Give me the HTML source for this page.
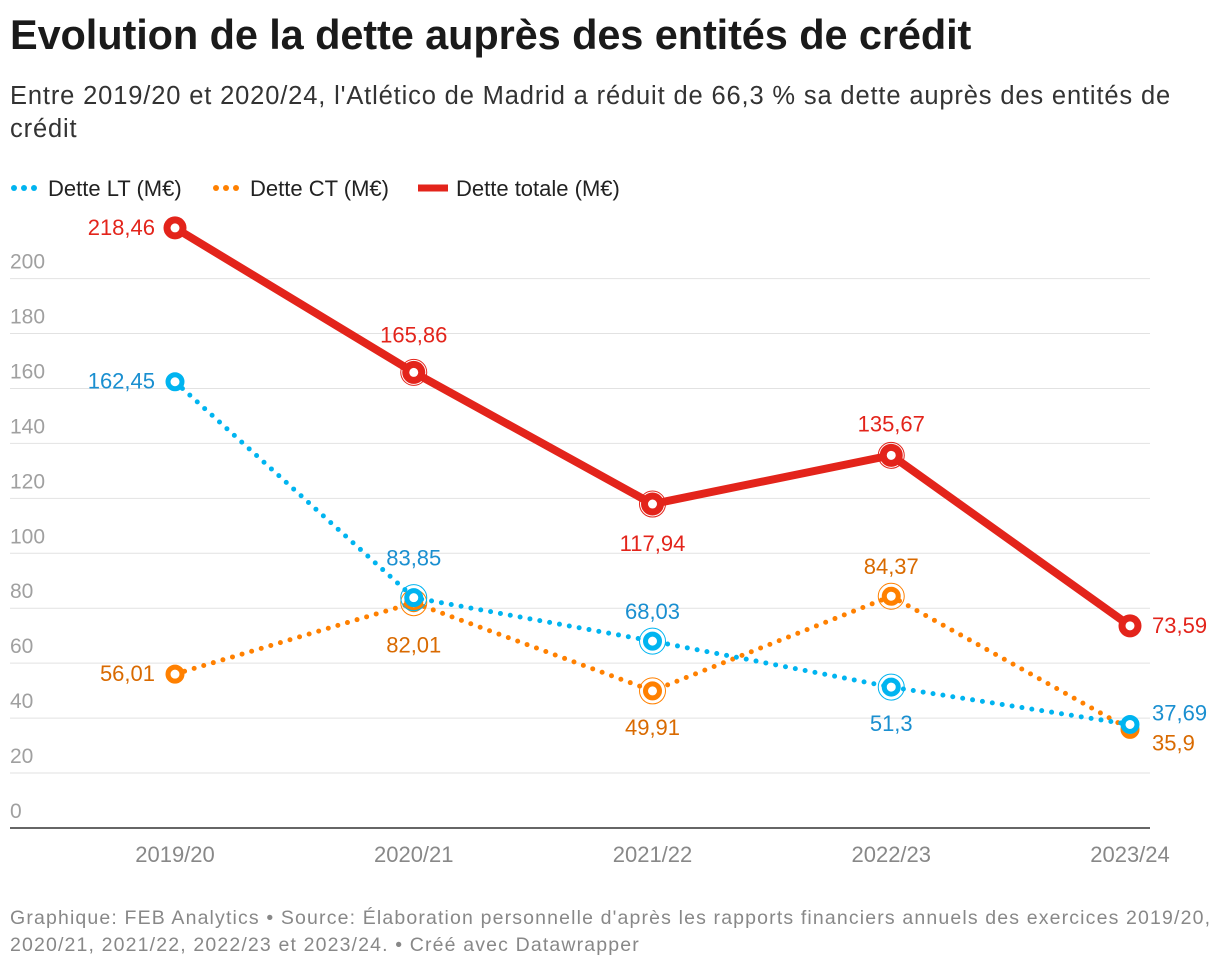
<!DOCTYPE html>
<html><head><meta charset="utf-8"><style>
body{margin:0;background:#fff;width:1220px;height:970px;overflow:hidden;font-family:"Liberation Sans",sans-serif}
h1{position:absolute;left:10px;top:11px;margin:0;font-size:41.5px;font-weight:bold;color:#1a1a1a;letter-spacing:-0.1px;white-space:nowrap}
.sub{position:absolute;left:10px;top:80px;width:1200px;font-size:25.5px;letter-spacing:0.85px;line-height:33px;color:#333;white-space:nowrap}
.foot{position:absolute;left:10px;top:905px;width:1205px;font-size:19.5px;letter-spacing:1.15px;line-height:27px;color:#888;white-space:nowrap}
svg{position:absolute;left:0;top:0}
</style></head><body>
<h1>Evolution de la dette auprès des entités de crédit</h1>
<div class="sub">Entre 2019/20 et 2020/24, l'Atlético de Madrid a réduit de 66,3 % sa dette auprès des entités de<br>crédit</div>
<div class="foot">Graphique: FEB Analytics • Source: Élaboration personnelle d'après les rapports financiers annuels des exercices 2019/20,<br>2020/21, 2021/22, 2022/23 et 2023/24. • Créé avec Datawrapper</div>
<svg id="c" width="1220" height="970"></svg>
<script>
const categories=["2019/20","2020/21","2021/22","2022/23","2023/24"];
const lt=[162.45,83.85,68.03,51.3,37.69];
const ct=[56.01,82.01,49.91,84.37,35.9];
const total=[218.46,165.86,117.94,135.67,73.59];
const ticks=[0,20,40,60,80,100,120,140,160,180,200];
const ltLabels=["162,45","83,85","68,03","51,3","37,69"];
const ctLabels=["56,01","82,01","49,91","84,37","35,9"];
const totLabels=["218,46","165,86","117,94","135,67","73,59"];
const NS="http://www.w3.org/2000/svg";
const svg=document.getElementById('c');
const x=i=>175+i*238.75;
const y=v=>828-v*2.747;
function el(t,a,p){const e=document.createElementNS(NS,t);for(const k in a)e.setAttribute(k,a[k]);(p||svg).appendChild(e);return e;}
function txt(s,a){const e=el('text',a);e.textContent=s;return e;}
const lg=[["Dette LT (M€)","#00b4f0",10,true],["Dette CT (M€)","#ff8000",212,true],["Dette totale (M€)","#e3241b",418,false]];
lg.forEach(l=>{
 const g=el('g',{});
 
 
 if(l[3]){for(let k=0;k<3;k++)el('circle',{cx:l[2]+4+k*10,cy:188,r:3,fill:l[1]},g);}
 else el('line',{x1:l[2],x2:l[2]+30,y1:188,y2:188,stroke:l[1],'stroke-width':7},g);
 const t=el('text',{x:l[2]+38,y:196,'font-size':22,fill:'#222'},g);t.textContent=l[0];
});
ticks.forEach(t=>{
 const g=el('line',{x1:10,x2:1150,y1:y(t),y2:y(t),stroke:t===0?'#333':'#e2e2e2','stroke-width':t===0?1.5:1});
 
 
 const l=txt(String(t),{x:10,y:y(t)-10,'font-size':21,fill:'#a0a0a0'});
 
 
});
categories.forEach((c,i)=>{
 const l=txt(c,{x:x(i),y:862,'font-size':22,fill:'#888','text-anchor':'middle'});
 
 
});
function series(vals,color,dotted,name){
 const p=el('polyline',{points:vals.map((v,i)=>x(i)+','+y(v)).join(' '),fill:'none',stroke:color,'stroke-width':dotted?5:8,'stroke-linecap':'round','stroke-linejoin':'round','stroke-dasharray':dotted?'0 10':'none'});
 
 
 vals.forEach((v,i)=>{
  if(i>0&&i<4) el('circle',{cx:x(i),cy:y(v),r:13,fill:'none',stroke:color,'stroke-width':1});
  const m=el('circle',{cx:x(i),cy:y(v),r:dotted?7:8,fill:'#fff',stroke:color,'stroke-width':dotted?5:7});
  
  
 });
}
series(ct,'#ff8000',true,'dette-ct');
series(lt,'#00b4f0',true,'dette-lt');
series(total,'#e3241b',false,'dette-totale');
function lab(s,px,py,col,anchor){const l=txt(s,{x:px,y:py,'font-size':22,fill:col,'text-anchor':anchor});}
const R='#e3241b',B='#1a8fd0',O='#d96a00';
lab(totLabels[0],x(0)-20,y(total[0])+7,R,'end');
lab(totLabels[1],x(1),y(total[1])-30,R,'middle');
lab(totLabels[2],x(2),y(total[2])+47,R,'middle');
lab(totLabels[3],x(3),y(total[3])-24,R,'middle');
lab(totLabels[4],x(4)+22,y(total[4])+7,R,'start');
lab(ltLabels[0],x(0)-20,y(lt[0])+7,B,'end');
lab(ltLabels[1],x(1),y(lt[1])-32,B,'middle');
lab(ltLabels[2],x(2),y(lt[2])-22,B,'middle');
lab(ltLabels[3],x(3),y(lt[3])+44,B,'middle');
lab(ltLabels[4],x(4)+22,y(lt[4])-4,B,'start');
lab(ctLabels[0],x(0)-20,y(ct[0])+7,O,'end');
lab(ctLabels[1],x(1),y(ct[1])+50,O,'middle');
lab(ctLabels[2],x(2),y(ct[2])+44,O,'middle');
lab(ctLabels[3],x(3),y(ct[3])-22,O,'middle');
lab(ctLabels[4],x(4)+22,y(ct[4])+21,O,'start');
</script>
</body></html>
